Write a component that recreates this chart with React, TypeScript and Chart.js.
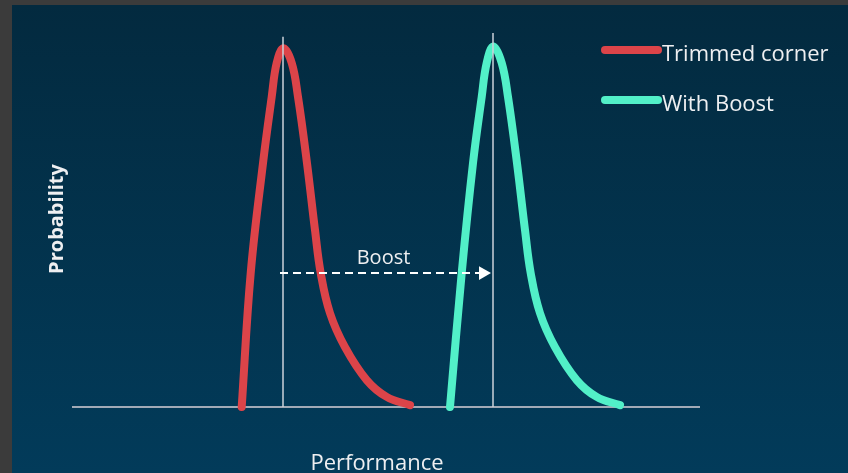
import React, { useEffect, useRef } from "react";
import { Chart, registerables } from "chart.js";

Chart.register(...registerables);

// Performance (x) and probability (y) readings of the two curves
const trimmedX = [16.97, 17.87, 19.1, 19.97, 20.47, 21.13, 21.97, 22.6, 23.5, 24.3, 24.87, 25.8, 27.3, 29.47, 31.47, 33.8];
const trimmedY = [0, 35.8, 65.2, 82.9, 92.0, 95.9, 92.0, 82.9, 65.2, 47.3, 35.8, 25.1, 16.0, 7.2, 2.7, 0.5];
const boostX = [37.8, 38.97, 40.1, 40.97, 41.47, 42.13, 42.97, 43.6, 44.5, 45.3, 45.87, 46.8, 48.3, 50.47, 52.47, 54.8];
const boostY = [0, 35.8, 65.2, 82.9, 92.0, 96.4, 92.0, 82.9, 65.2, 47.3, 35.8, 25.1, 16.0, 7.2, 2.7, 0.5];

// Peak markers (x position, top value)
const markerX = [21.1, 42.1];
const markerTop = [99, 100];

// Boost arrow (from, to, level)
const arrowFromTo = [20.8, 41.1];
const arrowLevel = 35.8;

// Axis extent
const axisRange = [0, 62.8];
const probRange = [0, 100];

const seriesLabels = ["Trimmed corner", "With Boost"];
const xTitle = "Performance";
const yTitle = "Probability";
const arrowLabel = "Boost";

const RED = "#dc4449";
const TEAL = "#52f0c8";
const TEXT = "#eeeff1";

const pts = (xs: number[], ys: number[]) => xs.map((x, i) => ({ x, y: ys[i] }));

export default function App() {
  const ref = useRef<HTMLCanvasElement>(null);

  useEffect(() => {
    const canvas = ref.current!;
    const bgPlugin = {
      id: "bg",
      beforeDraw(chart: any) {
        const { ctx, width, height } = chart;
        ctx.save();
        ctx.fillStyle = "#3b3b3b";
        ctx.fillRect(0, 0, width, height);
        const g = ctx.createLinearGradient(0, 5, 0, height);
        g.addColorStop(0, "#032a3f");
        g.addColorStop(1, "#023b5a");
        ctx.fillStyle = g;
        ctx.fillRect(12, 5, width - 12, height - 5);
        ctx.restore();
      },
    };
    const textPlugin = {
      id: "texts",
      afterDatasetsDraw(chart: any) {
        const { ctx } = chart;
        const xs = chart.scales.x;
        const ys = chart.scales.y;
        ctx.save();
        ctx.fillStyle = TEXT;
        // Boost label
        ctx.font = "500 20px 'Open Sans'";
        ctx.textAlign = "center";
        ctx.textBaseline = "alphabetic";
        const ax = (xs.getPixelForValue(arrowFromTo[0]) + xs.getPixelForValue(arrowFromTo[1])) / 2;
        ctx.fillText(arrowLabel, ax + 2, ys.getPixelForValue(arrowLevel) - 9);
        // x title
        ctx.font = "500 22px 'Open Sans'";
        ctx.fillText(xTitle, 377, 470);
        // y title
        ctx.save();
        ctx.translate(63, 219);
        ctx.rotate(-Math.PI / 2);
        ctx.font = "bold 20px 'Open Sans'";
        ctx.fillText(yTitle, 0, 0);
        ctx.restore();
        // legend
        const colors = [RED, TEAL];
        const rows = [50, 100];
        ctx.textAlign = "left";
        ctx.font = "22px 'Open Sans'";
        seriesLabels.forEach((lab, i) => {
          ctx.strokeStyle = colors[i];
          ctx.lineWidth = 8;
          ctx.lineCap = "round";
          ctx.beginPath();
          ctx.moveTo(605, rows[i]);
          ctx.lineTo(658, rows[i]);
          ctx.stroke();
          ctx.fillStyle = TEXT;
          ctx.fillText(lab, 662, rows[i] + 11);
        });
        ctx.restore();
      },
    };

    const curve = (label: string, data: any, color: string) => ({
      label,
      data,
      borderColor: color,
      backgroundColor: color,
      borderWidth: 8,
      borderCapStyle: "round",
      borderJoinStyle: "round",
      pointRadius: 0,
      tension: 0.4,
      fill: false,
      clip: false,
      order: 2,
    });

    const chart = new Chart(canvas, {
      type: "line",
      data: {
        datasets: [
          {
            label: "axis",
            data: [
              { x: axisRange[0], y: 0 },
              { x: axisRange[1], y: 0 },
            ],
            borderColor: "#a2aab6",
            borderWidth: 2,
            pointRadius: 0,
            clip: false,
            order: 3,
          } as any,
          curve(seriesLabels[0], pts(trimmedX, trimmedY), RED),
          curve(seriesLabels[1], pts(boostX, boostY), TEAL),
          ...markerX.map((mx, i) => ({
            label: "marker" + i,
            data: [
              { x: mx, y: 0 },
              { x: mx, y: markerTop[i] },
            ],
            borderColor: "#cdd2da",
            borderWidth: 1.5,
            pointRadius: 0,
            tension: 0,
            clip: false,
            order: 1,
          })),
          {
            label: "arrow",
            data: [
              { x: arrowFromTo[0], y: arrowLevel },
              { x: arrowFromTo[1], y: arrowLevel },
            ],
            borderColor: "#ffffff",
            borderWidth: 2,
            borderDash: [8, 5],
            pointRadius: [0, 8],
            pointStyle: "triangle",
            rotation: 90,
            pointBackgroundColor: "#ffffff",
            pointBorderColor: "#ffffff",
            pointBorderWidth: 0,
            clip: false,
            order: 0,
          } as any,
        ],
      },
      options: {
        responsive: false,
        animation: false,
        devicePixelRatio: 1,
        layout: { padding: { left: 72, right: 148, top: 33, bottom: 66 } },
        scales: {
          x: { type: "linear", min: axisRange[0], max: axisRange[1], display: false },
          y: { type: "linear", min: probRange[0], max: probRange[1], display: false },
        },
        plugins: {
          legend: { display: false },
          tooltip: { enabled: false },
        },
      } as any,
      plugins: [bgPlugin, textPlugin],
    });
    return () => chart.destroy();
  }, []);

  return (
    <div style={{ position: "fixed", left: 0, top: 0, width: 848, height: 473 }}>
      <canvas ref={ref} width={848} height={473} style={{ width: 848, height: 473, display: "block" }} />
    </div>
  );
}
